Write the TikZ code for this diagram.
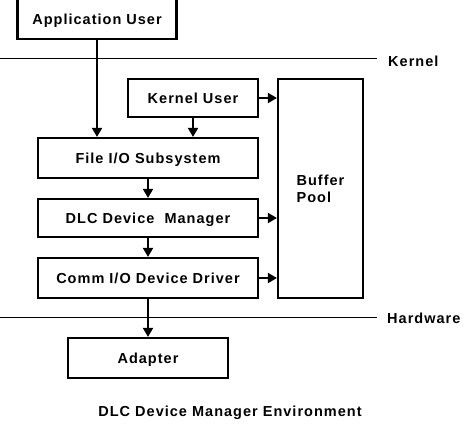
\documentclass[tikz,border=0pt]{standalone}
\usepackage{fontspec}
\setmainfont{Liberation Sans}[LetterSpace=7]
\usetikzlibrary{arrows.meta}

\begin{document}
\begin{tikzpicture}[x=1pt,y=-1pt,
		blk/.style={draw,line width=2.2pt,inner sep=0pt,minimum height=39pt,text height=10.5pt,text depth=0pt,font=\bfseries\fontsize{14.5}{17}\selectfont},
		lbl/.style={inner sep=0pt,font=\bfseries\fontsize{14.5}{17}\selectfont},
		arr/.style={line width=2pt,-{Triangle[length=9pt,width=10pt]}},
		sep/.style={line width=1pt}]
		\useasboundingbox (0,0) rectangle (473,423);
		% boxes
		\node (app) at(97,17)[blk,minimum width=159pt,minimum height=44pt,text height=14pt]{Application User};
		\node (kuser) at(193,98)[blk,minimum width=130pt,minimum height=38pt]{Kernel User};
		\node (file) at(148,158)[blk,minimum width=220pt,minimum height=40pt]{File I/O Subsystem};
		\node (dlc) at(148,218)[blk,minimum width=220pt,minimum height=38pt]{DLC Device~ Manager};
		\node (comm) at(148,278)[blk,minimum width=220pt,minimum height=40pt]{Comm I/O Device Driver};
		\node (adapter) at(148,358)[blk,minimum width=160pt,minimum height=40pt]{Adapter};
		\node (buf) at(320.5,188.5)[draw,line width=2.2pt,minimum width=85pt,minimum height=219pt,align=left,font=\bfseries\fontsize{14.5}{17}\selectfont]{Buffer\\Pool};
		% kernel and hardware borders
		\coordinate (kl) at(0,58);
		\coordinate (kr) at(377,58);
		\coordinate (hl) at(0,317);
		\coordinate (hr) at(377,317);
		\draw[sep] (kl)--(kr);
		\draw[sep] (hl)--(hr);
		\node (kernel) at(388,61)[lbl,anchor=west]{Kernel};
		\node (hardware) at(387,318)[lbl,anchor=west]{Hardware};
		% arrows
		\foreach \a/\b in {app/file,kuser/file,file/dlc,dlc/comm,comm/adapter}{
			\draw[arr] (\a.south)--(\a.south |- \b.north);
		}
		\foreach \n in {kuser,dlc,comm}{
			\draw[arr] (\n.east)--(\n.east -| buf.west);
		}
		\node (title) at(230,413)[lbl]{DLC Device Manager Environment};
	\end{tikzpicture}
\end{document}
